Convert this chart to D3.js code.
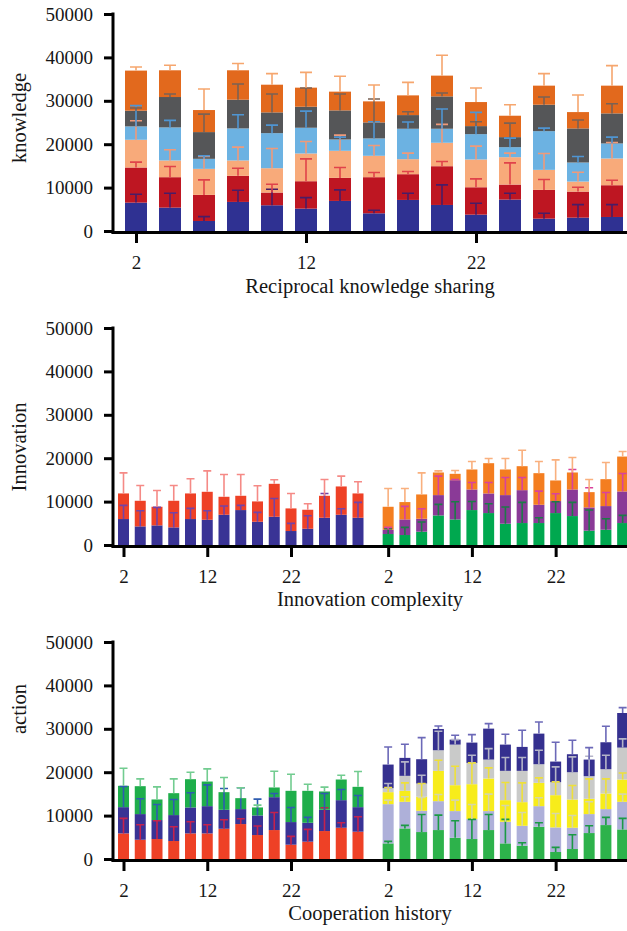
<!DOCTYPE html>
<html>
<head>
<meta charset="utf-8">
<script src="https://cdn.jsdelivr.net/npm/d3@7"></script>
<style>
  body { margin: 0; background: #fff; }
  svg { display: block; }
  svg text { font-family: "Liberation Serif", "Times New Roman", Times, serif !important; fill: #161616; }
</style>
</head>
<body>
<svg id="chart" width="627" height="931" font-family="Liberation Serif, serif"></svg>
<script>
// Levels on each x axis and the labelled ticks
const xLevels = [2, 4, 6, 8, 10, 12, 14, 16, 18, 20, 22, 24, 26, 28, 30];
const xTickLabels = [2, 12, 22];
const yTickValues = [0, 10000, 20000, 30000, 40000, 50000];

// Reciprocal knowledge sharing: six stacked components (bottom to top) and their SD
const knowledgeA = [6540, 5390, 2310, 6700, 5930, 5160, 6930, 4080, 7160, 6000, 3770, 7240, 2850, 3080, 3230];
const knowledgeB = [8090, 7010, 6010, 6010, 2930, 6310, 5310, 8320, 5930, 8930, 6310, 3460, 6620, 6000, 7320];
const knowledgeC = [6390, 3850, 6000, 3540, 5610, 6390, 6240, 4930, 3460, 5400, 6400, 6310, 4620, 2310, 6160];
const knowledgeD = [3080, 7620, 2310, 7390, 8080, 5930, 2610, 4000, 7010, 3230, 5840, 2310, 8920, 4390, 3460];
const knowledgeE = [3620, 7000, 6160, 6620, 4780, 4850, 6700, 3690, 3150, 7460, 1850, 2310, 6090, 7860, 6930];
const knowledgeF = [9240, 6160, 5080, 6770, 6380, 4390, 4320, 4850, 4540, 4780, 5540, 4930, 4390, 3760, 6390];
const knowledgeErrA = [1930, 3310, 1000, 2690, 3690, 2540, 2540, 690, 1540, 4630, 2620, 1460, 1230, 3000, 2850];
const knowledgeErrB = [1230, 2460, 3460, 1760, 1910, 5160, 2390, 1070, 610, 1080, 1930, 5000, 2390, 1000, 1150];
const knowledgeErrC = [4390, 2460, 2850, 3070, 4550, 2770, 3610, 2380, 1390, 4230, 3070, 930, 3770, 2160, 3690];
const knowledgeErrD = [4780, 1620, 700, 3160, 1850, 3840, 540, 3850, 1540, 4540, 5010, 2080, 700, 1390, 1460];
const knowledgeErrE = [620, 690, 4150, 3610, 4230, 4300, 3770, 5390, 780, 770, 1010, 3230, 1770, 1920, 2230];
const knowledgeErrF = [840, 1160, 4850, 1550, 2550, 3530, 3530, 3770, 3000, 4690, 3230, 2540, 2770, 3930, 4620];

// Innovation complexity: first block (two components) and second block (three components)
const innovationA = [5980, 4290, 4520, 4060, 5980, 5820, 6970, 8050, 5360, 6510, 3220, 3750, 6280, 6970, 6280];
const innovationB = [5900, 5900, 4290, 6130, 5900, 6440, 4140, 3290, 4680, 7590, 5210, 4370, 5060, 6520, 5600];
const innovationErrA = [3140, 3600, 4140, 3370, 2450, 2070, 2000, 1070, 2150, 4220, 1760, 2990, 5600, 1380, 3530];
const innovationErrB = [4750, 3530, 3760, 3530, 3370, 4830, 5140, 4910, 3600, 920, 3450, 1380, 3760, 2370, 2680];
const innovationC = [2530, 2300, 3070, 6820, 5900, 8050, 7360, 4900, 5060, 5060, 7360, 6670, 3300, 3520, 5060];
const innovationD = [990, 3600, 2980, 4680, 9040, 4750, 4520, 6600, 7580, 4210, 2760, 6130, 5360, 5450, 7280];
const innovationE = [5290, 3990, 5600, 5210, 1460, 4600, 6970, 5900, 5520, 7280, 4750, 3910, 3520, 6200, 8040];
const innovationErrC = [1220, 1760, 2220, 2530, 4060, 1990, 2140, 3840, 4750, 1220, 2600, 3140, 4750, 2530, 1760];
const innovationErrD = [540, 2990, 2300, 4360, 160, 1610, 2530, 4060, 2920, 3140, 1680, 4600, 4520, 3140, 4140];
const innovationErrE = [4220, 3140, 4980, 380, 770, 1830, 1070, 2520, 3680, 2680, 4750, 3440, 2920, 3830, 1150];

// Cooperation history: first block (three components) and second block (five components)
const actionA = [5900, 4440, 4600, 4140, 5900, 5900, 6970, 8050, 5520, 6670, 3300, 3990, 6440, 7200, 6290];
const actionB = [6050, 5910, 4370, 5980, 5980, 6280, 4370, 3450, 4520, 7580, 5210, 4360, 4900, 6360, 5660];
const actionC = [4910, 6430, 4750, 5050, 6510, 5670, 4060, 2520, 1840, 2230, 7200, 7360, 4220, 4760, 4680];
const actionErrA = [3450, 3450, 4210, 3290, 2680, 1990, 2070, 1220, 2070, 4060, 1910, 2830, 5360, 1150, 3440];
const actionErrB = [4750, 3520, 3600, 3600, 3370, 4910, 4910, 4900, 3750, 850, 3370, 1230, 3760, 2460, 2690];
const actionErrC = [4060, 1690, 2910, 3300, 1610, 2920, 3370, 2380, 530, 3750, 3830, 1530, 990, 990, 3520];
const actionD = [3600, 7050, 6210, 6670, 4900, 4600, 6670, 3600, 3070, 7430, 1610, 2300, 5980, 7820, 6820];
const actionE = [9040, 6130, 4900, 6660, 6140, 4600, 4370, 4980, 4590, 4750, 5670, 4910, 4370, 3680, 6360];
const actionF = [2760, 2530, 3220, 6980, 5970, 8040, 7510, 4980, 5440, 5370, 7430, 6500, 3520, 3600, 5140];
const actionG = [920, 3450, 3070, 4750, 9350, 4910, 4360, 6750, 7210, 4290, 2990, 6290, 5210, 5590, 7350];
const actionH = [5440, 4140, 5590, 4900, 1150, 4670, 7130, 6050, 5520, 7050, 4750, 4140, 3830, 6210, 7970];
const actionErrD = [460, 690, 4060, 3450, 3910, 4520, 3600, 5520, 690, 920, 1070, 3300, 1680, 1760, 2530];
const actionErrE = [920, 1150, 3070, 1540, 2520, 3370, 3900, 3760, 3070, 1920, 3220, 2830, 2830, 3980, 1760];
const actionErrF = [1080, 1840, 3070, 2450, 4370, 4910, 2450, 4070, 4450, 1150, 3070, 3230, 4600, 3370, 1500];
const actionErrG = [1080, 3220, 1910, 4370, 1150, 1760, 2530, 3060, 3060, 3220, 3530, 3530, 4600, 3220, 2000];
const actionErrH = [4060, 3140, 4980, 700, 1000, 1840, 1150, 2380, 3830, 2680, 4450, 3220, 2760, 3680, 1230];

const FONT = "'Liberation Serif', 'Times New Roman', Times, serif";
const svg = d3.select("#chart");
const AXIS_X = 113;
const RIGHT_EDGE = 640;
const SECOND_BLOCK = 31.6; // offset of the second block along the x axis, in level units

function drawPanel(p) {
  const g = svg.append("g");
  const y = d3.scaleLinear().domain([0, 50000]).range([p.y0, p.y1]);
  const x = d3.scaleLinear().domain([2, 22]).range(p.xRange);

  const barLayer = g.append("g");
  const errLayer = g.append("g");

  p.groups.forEach(grp => {
    const keys = grp.values.map((_, j) => "s" + j);
    const rows = xLevels.map((lv, i) => {
      const r = { level: lv, index: i };
      keys.forEach((k, j) => { r[k] = grp.values[j][i]; });
      return r;
    });
    const stacked = d3.stack().keys(keys)(rows);

    stacked.forEach((layer, j) => {
      barLayer.append("g")
        .attr("fill", grp.fills[j])
        .selectAll("rect")
        .data(layer)
        .join("rect")
        .attr("x", d => x(d.data.level + grp.shift) - p.barW / 2)
        .attr("width", p.barW)
        .attr("y", d => y(d[1]))
        .attr("height", d => y(d[0]) - y(d[1]));
    });

    stacked.forEach((layer, j) => {
      const errs = grp.errors[j];
      errLayer.append("g")
        .attr("stroke", grp.errColors[j])
        .attr("stroke-width", 1.6)
        .attr("fill", "none")
        .selectAll("path")
        .data(layer)
        .join("path")
        .attr("d", d => {
          const cx = x(d.data.level + grp.shift);
          const top = y(d[1] + errs[d.data.index]);
          return `M${cx},${y(d[1])}V${top}M${cx - p.capW / 2},${top}H${cx + p.capW / 2}`;
        });
    });
  });

  // y axis
  const yAxis = d3.axisLeft(y)
    .tickValues(yTickValues)
    .tickFormat(d3.format("d"))
    .tickSize(9)
    .tickPadding(11)
    .tickSizeOuter(0);
  const yg = g.append("g").attr("transform", `translate(${AXIS_X},0)`).call(yAxis)
    .attr("font-family", FONT);
  yg.select(".domain").remove();
  yg.selectAll(".tick line").attr("stroke", "#000").attr("stroke-width", 3);
  yg.selectAll(".tick text").attr("font-size", 19).attr("font-family", FONT).attr("fill", "#161616");
  yg.append("line")
    .attr("x1", 0).attr("x2", 0)
    .attr("y1", p.y1 - 1.5).attr("y2", p.y0 + 2.5)
    .attr("stroke", "#000").attr("stroke-width", 3);

  // x axis
  const tickItems = [];
  p.groups.forEach(grp => xTickLabels.forEach(t => tickItems.push({ v: t + grp.shift, label: t })));
  const xAxis = d3.axisBottom(x)
    .tickValues(tickItems.map(d => d.v))
    .tickFormat((d, i) => tickItems[i].label)
    .tickSize(11)
    .tickPadding(13)
    .tickSizeOuter(0);
  const xg = g.append("g").attr("transform", `translate(0,${p.y0 + 1})`).call(xAxis)
    .attr("font-family", FONT);
  xg.select(".domain").remove();
  xg.selectAll(".tick line").attr("stroke", "#000").attr("stroke-width", 3);
  xg.selectAll(".tick text").attr("font-size", 19).attr("font-family", FONT).attr("fill", "#161616");
  xg.append("line")
    .attr("x1", AXIS_X - 1.5).attr("x2", RIGHT_EDGE)
    .attr("y1", 0.5).attr("y2", 0.5)
    .attr("stroke", "#000").attr("stroke-width", 3);

  // axis titles
  g.append("text")
    .attr("x", 370)
    .attr("y", p.titleY)
    .attr("text-anchor", "middle")
    .attr("font-family", FONT)
    .attr("font-size", 20.5)
    .text(p.xTitle);
  g.append("text")
    .attr("transform", `translate(26,${p.yTitleY}) rotate(-90)`)
    .attr("text-anchor", "middle")
    .attr("font-family", FONT)
    .attr("font-size", 20.5)
    .text(p.yTitle);
}

drawPanel({
  y0: 231, y1: 14,
  xRange: [136, 476],
  barW: 22, capW: 12,
  xTitle: "Reciprocal knowledge sharing", titleY: 293,
  yTitle: "knowledge", yTitleY: 118,
  groups: [{
    shift: 0,
    values: [knowledgeA, knowledgeB, knowledgeC, knowledgeD, knowledgeE, knowledgeF],
    errors: [knowledgeErrA, knowledgeErrB, knowledgeErrC, knowledgeErrD, knowledgeErrE, knowledgeErrF],
    fills: ["#2f3192", "#be1622", "#f8aa7a", "#6cb2e2", "#555658", "#e2691d"],
    errColors: ["#4a1c66", "#e0434a", "#ef9a7a", "#4f95d2", "#7a6254", "#f6a66e"]
  }]
});

drawPanel({
  y0: 545, y1: 328,
  xRange: [123.5, 291],
  barW: 11, capW: 8,
  xTitle: "Innovation complexity", titleY: 606,
  yTitle: "Innovation", yTitleY: 447,
  groups: [{
    shift: 0,
    values: [innovationA, innovationB],
    errors: [innovationErrA, innovationErrB],
    fills: ["#393395", "#ee4126"],
    errColors: ["#7443a6", "#f58a86"]
  }, {
    shift: SECOND_BLOCK,
    values: [innovationC, innovationD, innovationE],
    errors: [innovationErrC, innovationErrD, innovationErrE],
    fills: ["#00a84f", "#8a3a97", "#f47e20"],
    errColors: ["#1d7a48", "#d9429c", "#f9b07e"]
  }]
});

drawPanel({
  y0: 859, y1: 642,
  xRange: [123.5, 291],
  barW: 11, capW: 8,
  xTitle: "Cooperation history", titleY: 920,
  yTitle: "action", yTitleY: 709,
  groups: [{
    shift: 0,
    values: [actionA, actionB, actionC],
    errors: [actionErrA, actionErrB, actionErrC],
    fills: ["#ee4126", "#393395", "#1fae4b"],
    errColors: ["#c4224e", "#2e5cb0", "#72cc90"]
  }, {
    shift: SECOND_BLOCK,
    values: [actionD, actionE, actionF, actionG, actionH],
    errors: [actionErrD, actionErrE, actionErrF, actionErrG, actionErrH],
    fills: ["#2db24b", "#aeb0d9", "#f7ec1b", "#c9cac9", "#35308f"],
    errColors: ["#1b9a45", "#d6d6a8", "#eee03a", "#b4b4c8", "#6c69b8"]
  }]
});
</script>
</body>
</html>
